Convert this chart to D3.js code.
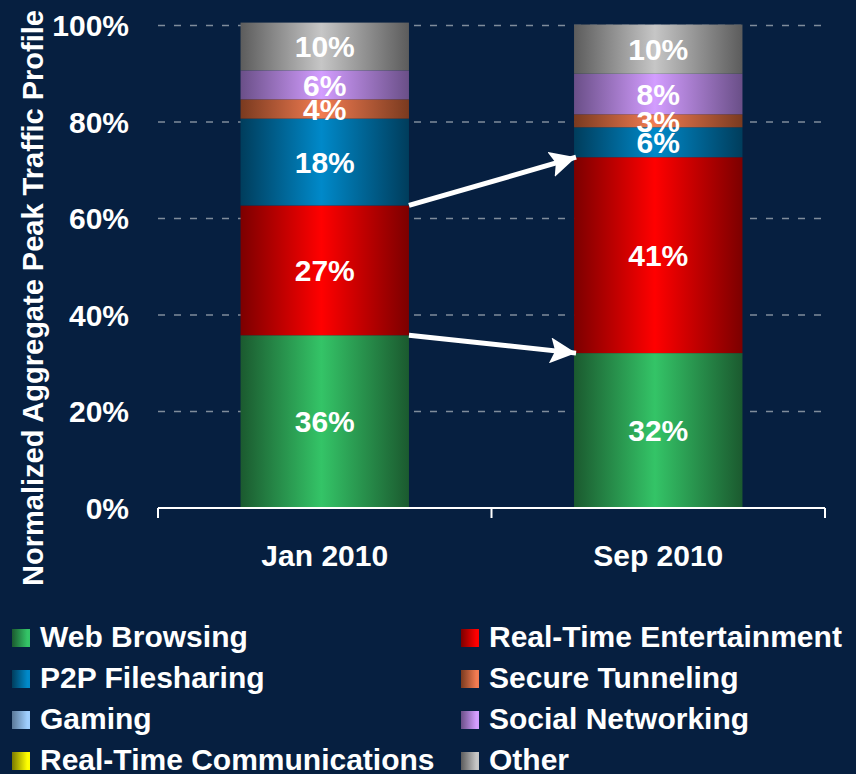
<!DOCTYPE html>
<html lang="en">
<head>
    <meta charset="utf-8">
    <title>Peak Traffic Profile</title>
    <style type="text/css">
        body { margin: 0; background: #061f40; }
        .chart { display: block; background: #061f40; }
        .chart text {
            font-family: "Liberation Sans", Arial, sans-serif;
            font-weight: bold;
            fill: #fff;
        }
        .grid line { stroke: #7f8c9b; stroke-width: 1.5; stroke-dasharray: 7,9; }
        .xaxis path, .xaxis line { stroke: #fff; stroke-width: 2; fill: none; }
    </style>
</head>
<body>
    <svg class="chart" width="856" height="774"></svg>

    <script src="https://cdn.jsdelivr.net/npm/d3@7"></script>
    <script>
        // data
        var categories = ['Jan 2010', 'Sep 2010'];
        var seriesNames = ['Web Browsing', 'Real-Time Entertainment', 'P2P Filesharing', 'Secure Tunneling',
                           'Gaming', 'Social Networking', 'Real-Time Communications', 'Other'];
        var janValues = [35.8, 26.9, 18.0, 4.0, 0, 6.0, 0, 9.9];
        var sepValues = [32.1, 40.6, 6.2, 2.7, 0, 8.4, 0, 10.2];
        var yTicks = [0, 20, 40, 60, 80, 100];

        // gradient colours: [edge, centre]
        var colors = [
            ['#1b5a2f', '#34c467'],
            ['#7c0000', '#ff0000'],
            ['#003d5c', '#0089c9'],
            ['#7a3a1f', '#f27c52'],
            ['#5a7898', '#9fcfff'],
            ['#6a4f88', '#d39dff'],
            ['#7a7a00', '#ffff00'],
            ['#5c5c5c', '#c6c6c6']
        ];

        var svg = d3.select('.chart'),
            width = +svg.attr('width'),
            height = +svg.attr('height');

        var x = d3.scaleBand()
            .domain(categories)
            .range([158, 825])
            .paddingInner(0.495)
            .paddingOuter(0.2475);

        var y = d3.scaleLinear()
            .domain([0, 100])
            .range([508, 25.5]);

        // gradients
        var defs = svg.append('defs');
        colors.forEach(function(c, i) {
            var gb = defs.append('linearGradient').attr('id', 'bar' + i)
                .attr('x1', '0%').attr('x2', '100%').attr('y1', '0%').attr('y2', '0%');
            gb.append('stop').attr('offset', '0%').attr('stop-color', c[0]);
            gb.append('stop').attr('offset', '48%').attr('stop-color', c[1]);
            gb.append('stop').attr('offset', '100%').attr('stop-color', c[0]);

            var gl = defs.append('linearGradient').attr('id', 'leg' + i)
                .attr('x1', '0%').attr('x2', '100%').attr('y1', '0%').attr('y2', '0%');
            gl.append('stop').attr('offset', '0%').attr('stop-color', c[0]);
            gl.append('stop').attr('offset', '85%').attr('stop-color', c[1]);
        });

        defs.append('marker')
            .attr('id', 'arrowhead')
            .attr('markerUnits', 'userSpaceOnUse')
            .attr('viewBox', '0 0 26 26')
            .attr('refX', 26).attr('refY', 13)
            .attr('markerWidth', 26).attr('markerHeight', 26)
            .attr('orient', 'auto')
            .append('path')
            .attr('d', 'M0,0 L26,13 L0,26 L5,13 Z')
            .attr('fill', '#fff');

        // gridlines
        svg.append('g')
            .attr('class', 'grid')
            .selectAll('line')
            .data(yTicks.filter(function(d) { return d > 0; }))
            .enter()
            .append('line')
            .attr('x1', 158).attr('x2', 825)
            .attr('y1', function(d) { return y(d); })
            .attr('y2', function(d) { return y(d); });

        // y tick labels
        svg.append('g')
            .selectAll('text')
            .data(yTicks)
            .enter()
            .append('text')
            .attr('x', 129)
            .attr('y', function(d) { return y(d); })
            .attr('dy', '0.35em')
            .attr('text-anchor', 'end')
            .style('font-size', '30px')
            .text(function(d) { return d + '%'; });

        // y title
        svg.append('text')
            .attr('transform', 'translate(43,298) rotate(-90)')
            .attr('text-anchor', 'middle')
            .style('font-size', '29px')
            .text('Normalized Aggregate Peak Traffic Profile');

        // stacks
        var table = categories.map(function(c, i) {
            var row = {category: c};
            var vals = i === 0 ? janValues : sepValues;
            seriesNames.forEach(function(s, j) { row[s] = vals[j]; });
            return row;
        });
        var stacked = d3.stack().keys(seriesNames)(table);

        var layers = svg.append('g')
            .selectAll('g')
            .data(stacked)
            .enter()
            .append('g')
            .attr('fill', function(d, i) { return 'url(#bar' + i + ')'; });

        layers.selectAll('rect')
            .data(function(d) { return d; })
            .enter()
            .append('rect')
            .attr('x', function(d) { return x(d.data.category); })
            .attr('width', x.bandwidth())
            .attr('y', function(d) { return y(d[1]); })
            .attr('height', function(d) { return y(d[0]) - y(d[1]); });

        // value labels
        var labels = [];
        stacked.forEach(function(layer) {
            layer.forEach(function(d) {
                var v = d[1] - d[0];
                if (v > 0) labels.push({cat: d.data.category, mid: (d[0] + d[1]) / 2, v: v});
            });
        });
        svg.append('g')
            .selectAll('text')
            .data(labels)
            .enter()
            .append('text')
            .attr('x', function(d) { return x(d.cat) + x.bandwidth() / 2; })
            .attr('y', function(d) { return y(d.mid); })
            .attr('dy', '0.36em')
            .attr('text-anchor', 'middle')
            .style('font-size', '30px')
            .text(function(d) { return Math.round(d.v) + '%'; });

        // x axis (ticks at category boundaries)
        var xa = svg.append('g').attr('class', 'xaxis');
        var bounds = [158, 158 + x.step(), 825];
        xa.append('path').attr('d', 'M158,' + y(0) + 'H825');
        xa.selectAll('line')
            .data(bounds)
            .enter()
            .append('line')
            .attr('x1', function(d) { return d; })
            .attr('x2', function(d) { return d; })
            .attr('y1', y(0)).attr('y2', y(0) + 10);
        xa.selectAll('text')
            .data(categories)
            .enter()
            .append('text')
            .attr('x', function(d) { return x(d) + x.bandwidth() / 2; })
            .attr('y', 566)
            .attr('text-anchor', 'middle')
            .style('font-size', '30px')
            .text(function(d) { return d; });

        // arrows between the bars
        var arrowLevels = [janValues[0], janValues[0] + janValues[1]];
        var arrowEnds = [sepValues[0], sepValues[0] + sepValues[1]];
        svg.append('g')
            .selectAll('line')
            .data(arrowLevels)
            .enter()
            .append('line')
            .attr('x1', x(categories[0]) + x.bandwidth())
            .attr('y1', function(d) { return y(d); })
            .attr('x2', x(categories[1]) + 2)
            .attr('y2', function(d, i) { return y(arrowEnds[i]); })
            .attr('stroke', '#fff')
            .attr('stroke-width', 5)
            .attr('marker-end', 'url(#arrowhead)');

        // legend
        var legend = svg.append('g')
            .selectAll('g')
            .data(seriesNames)
            .enter()
            .append('g')
            .attr('transform', function(d, i) {
                var col = i % 2, row = Math.floor(i / 2);
                return 'translate(' + (col === 0 ? 12 : 461) + ',' + (647 + row * 41) + ')';
            });

        legend.append('rect')
            .attr('x', 0).attr('y', -18)
            .attr('width', 18).attr('height', 18)
            .attr('fill', function(d, i) { return 'url(#leg' + i + ')'; });

        legend.append('text')
            .attr('x', 28)
            .attr('y', 0)
            .style('font-size', '30px')
            .text(function(d) { return d; });
    </script>
</body>
</html>
